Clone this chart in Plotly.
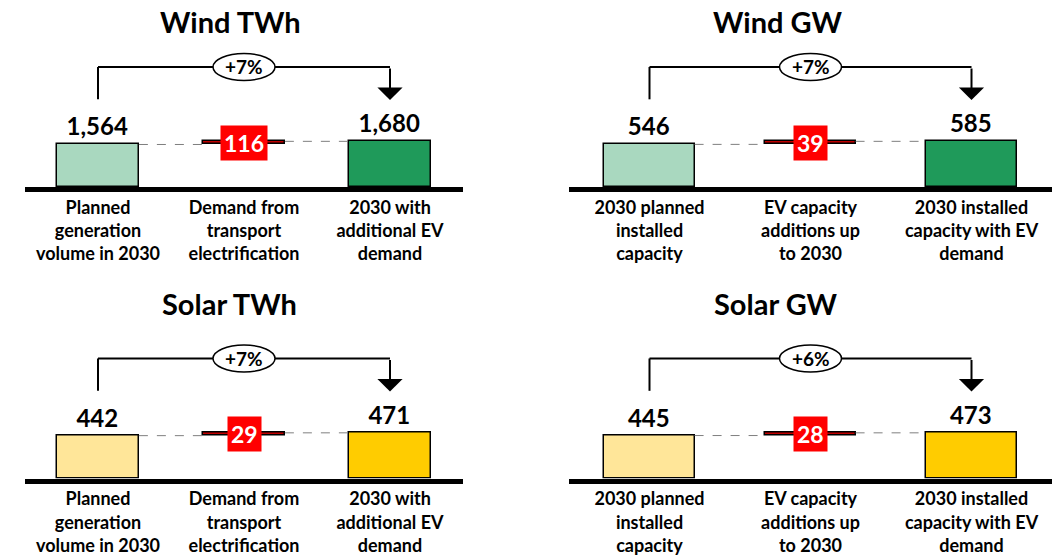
import plotly.graph_objects as go

# data
TITLES = ["Wind TWh", "Wind GW", "Solar TWh", "Solar GW"]
PLANNED = [1564, 546, 442, 445]
EV_ADDITION = [116, 39, 29, 28]
CATS_TWH = ["Planned<br>generation<br>volume in 2030",
            "Demand from<br>transport<br>electrification",
            "2030 with<br>additional EV<br>demand"]
CATS_GW = ["2030 planned<br>installed<br>capacity",
           "EV capacity<br>additions up<br>to 2030",
           "2030 installed<br>capacity with EV<br>demand"]
CATEGORIES = [CATS_TWH, CATS_GW, CATS_TWH, CATS_GW]

WIND_COLORS = ["#A9D8BF", "#1F9A5A"]
SOLAR_COLORS = ["#FFE699", "#FFCC00"]
PANEL_COLORS = [WIND_COLORS, WIND_COLORS, SOLAR_COLORS, SOLAR_COLORS]
STEP_COLOR = "#C00000"
FONT = "Lato"

W, H = 1059, 556
X_PX = [(25, 463), (569, 1052), (25, 463), (569, 1052)]
BASE_PX = [187, 187, 478.5, 478.5]
TITLE_PX = [(230, 22), (777, 22), (229, 303), (776, 303)]
PANEL_H = 137
BW = 0.56
BRACKET_Y = 0.876
BRACKET_LOW = 0.64
ARROW_TIP = 0.635

fig = go.Figure()
shapes, annotations = [], []

for i in range(4):
    sfx = "" if i == 0 else str(i + 1)
    xa, ya = "x" + sfx, "y" + sfx
    start, delta = PLANNED[i], EV_ADDITION[i]
    end = start + delta
    cats = CATEGORIES[i]
    light, dark = PANEL_COLORS[i]

    fig.add_trace(go.Bar(
        x=cats, y=[start, delta, end], base=[0, start, 0],
        width=BW, xaxis=xa, yaxis=ya,
        marker=dict(color=[light, STEP_COLOR, dark], line=dict(color="black", width=1.5)),
        text=[f"{start:,}", "", f"{end:,}"], textposition="outside", cliponaxis=False,
        textfont=dict(family=FONT, size=24, color="black", weight="bold"),
        hoverinfo="skip", showlegend=False,
    ))

    x0, x1 = X_PX[i]
    yb = BASE_PX[i]
    d0, d1 = 1 - yb / H, 1 - (yb - PANEL_H) / H
    fig.layout["xaxis" + sfx] = dict(
        domain=[x0 / W, x1 / W], anchor=ya, showline=True, linewidth=5, linecolor="black",
        ticks="", showgrid=False, zeroline=False, fixedrange=True,
        tickfont=dict(family=FONT, size=18, color="black", weight="bold"),
    )
    fig.layout["yaxis" + sfx] = dict(
        domain=[d0, d1], anchor=xa, range=[0, end * 3.0],
        visible=False, fixedrange=True,
    )

    def py(frac):
        # fraction of the panel height -> paper y
        return d0 + frac * (d1 - d0)

    # title
    tx, ty = TITLE_PX[i]
    annotations.append(dict(x=tx / W, y=1 - ty / H, xref="paper", yref="paper",
                            text=TITLES[i], showarrow=False, xanchor="center", yanchor="middle",
                            font=dict(family=FONT, size=29, color="black", weight="bold")))

    # dashed connectors
    shapes.append(dict(type="line", xref=xa, yref=ya, x0=BW / 2, x1=1 - BW / 2, y0=start, y1=start,
                       line=dict(color="#7F7F7F", width=1, dash="dash")))
    shapes.append(dict(type="line", xref=xa, yref=ya, x0=1 + BW / 2, x1=2 - BW / 2, y0=end, y1=end,
                       line=dict(color="#7F7F7F", width=1, dash="dash")))

    # step label box
    annotations.append(dict(x=1, y=start + delta / 2, xref=xa, yref=ya, text=str(delta),
                            showarrow=False, bgcolor="#FF0000", borderpad=3,
                            xanchor="center", yanchor="middle",
                            font=dict(family=FONT, size=23, color="white", weight="bold")))

    # bracket with growth
    shapes.append(dict(type="line", xref=xa, yref="paper", x0=0, x1=0, y0=py(BRACKET_LOW), y1=py(BRACKET_Y),
                       line=dict(color="black", width=2)))
    shapes.append(dict(type="line", xref=xa, yref="paper", x0=0, x1=2, y0=py(BRACKET_Y), y1=py(BRACKET_Y),
                       line=dict(color="black", width=2)))
    annotations.append(dict(x=2, y=py(ARROW_TIP), xref=xa, yref="paper", ax=0,
                            ay=-(BRACKET_Y - ARROW_TIP) * PANEL_H, text="", showarrow=True,
                            arrowhead=1, arrowsize=2.1, arrowwidth=2, arrowcolor="black"))
    shapes.append(dict(type="circle", xref=xa, yref="paper", xsizemode="pixel", ysizemode="pixel",
                       xanchor=1, yanchor=py(BRACKET_Y), x0=-31, x1=31, y0=-13.5, y1=13.5,
                       fillcolor="white", line=dict(color="black", width=1.5)))
    pct = round(delta / start * 100)
    annotations.append(dict(x=1, y=py(BRACKET_Y), xref=xa, yref="paper", text=f"+{pct}%",
                            showarrow=False, xanchor="center", yanchor="middle",
                            font=dict(family=FONT, size=19, color="black", weight="bold")))

fig.update_layout(
    width=W, height=H, margin=dict(l=0, r=0, t=0, b=0),
    paper_bgcolor="white", plot_bgcolor="white",
    shapes=shapes, annotations=annotations, bargap=0,
)

# the page body has a default 8px margin; drop it so the figure fills the window
fig.write_html("out.html", config={"displayModeBar": False},
               post_script="document.body.style.margin = '0';")
